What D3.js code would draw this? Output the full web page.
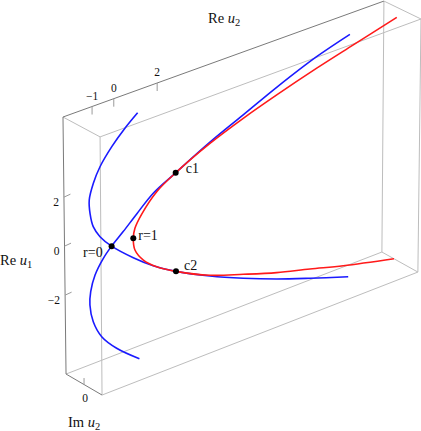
<!DOCTYPE html>
<html>
<head>
  <meta charset="utf-8">
  <script src="https://d3js.org/d3.v7.min.js"></script>
  <style>
    html, body { margin: 0; padding: 0; background: #fff; }
    svg { display: block; }
    text { font-family: "Liberation Serif", serif; fill: #111; }
  </style>
</head>
<body>
  <div id="chart"></div>
  <script>

  // curves: Re u2, Re u1, Im u2
  var blue1ReU2 = [0.95, 0.30, -0.39, -1.03, -1.42, -1.70, -1.75, -1.69, -1.45, -1.00, -0.01, 0.90, 1.94, 3.50, 5.03, 6.56, 8.09, 9.84];
  var blue1ReU1 = [4.46, 4.07, 3.58, 3.01, 2.50, 1.95, 1.44, 0.94, 0.49, 0, -0.79, -1.41, -1.97, -2.66, -3.24, -3.76, -4.22, -4.72];
  var blue1ImU2 = [-1.25, -1.14, -1.00, -0.84, -0.70, -0.55, -0.40, -0.26, -0.14, 0, 0, 0, 0, 0, 0, 0, 0, 0];

  var blue2ReU2 = [1.09, -0.08, -0.88, -1.39, -1.66, -1.71, -1.61, -1.32, -1.00, -0.46, 0.17, 0.94, 1.98, 3.57, 5.11, 6.66, 8.51, 10.05];
  var blue2ReU1 = [-5.72, -4.85, -4.06, -3.22, -2.38, -1.77, -1.07, -0.43, 0, 0.42, 0.94, 1.54, 2.04, 2.78, 3.40, 4.03, 4.69, 5.11];
  var blue2ImU2 = [-1.60, -1.36, -1.14, -0.90, -0.67, -0.50, -0.30, -0.12, 0, 0, 0, 0, 0, 0, 0, 0, 0, 0];

  var redReU2 = [12.21, 10.20, 8.51, 6.66, 5.11, 3.57, 1.98, 1.10, 0.40, 0.08, 0, 0.07, 0.45, 1.06, 1.94, 3.50, 5.03, 6.56, 8.09, 9.62, 11.95];
  var redReU1 = [5.11, 4.63, 4.22, 3.72, 3.26, 2.73, 2.04, 1.55, 0.86, 0.38, 0, -0.50, -1.03, -1.50, -1.97, -2.63, -3.08, -3.50, -3.84, -4.20, -4.66];

  // marked points
  var pointNames = ["r=0", "r=1", "c1", "c2"];
  var pointReU2 = [-1.00, 0, 1.98, 1.94];
  var pointReU1 = [0, 0, 2.04, -1.97];

  // box corners, the right side is a little shorter from the perspective
  var cornerReU2 = [-2.34, -2.29, 12.45, 12.50, -2.34, -2.34, 12.22, 12.22];
  var cornerReU1 = [5.27, 5.30, 5.27, 5.38, -5.22, -5.22, -4.90, -4.86];
  var cornerImU2 = [-1.5, 1.5, -1.5, 1.5, -1.5, 1.5, -1.5, 1.5];
  var darkEdges = [[0, 2], [0, 4], [4, 5]];
  var lightEdges = [[0, 1], [1, 3], [2, 3], [1, 5], [2, 6], [3, 7], [5, 7], [4, 6], [6, 7]];

  var reU2Ticks = [-1, 0, 2];
  var reU1Ticks = [-2, 0, 2];
  var imU2Ticks = [0];

  var width = 421,
      height = 431;

  // oblique projection, one scale per data axis and screen direction
  var xFromReU2 = d3.scaleLinear().domain([0, 1]).range([0, 21.7]),
      yFromReU2 = d3.scaleLinear().domain([0, 1]).range([0, -7.84]),
      xFromReU1 = d3.scaleLinear().domain([0, 1]).range([0, -0.29]),
      yFromReU1 = d3.scaleLinear().domain([0, 1]).range([0, -24.5]),
      xFromImU2 = d3.scaleLinear().domain([0, 1]).range([0, 12]),
      yFromImU2 = d3.scaleLinear().domain([0, 1]).range([0, 7]);

  function px(a, b, c) {
    return 133.3 + xFromReU2(a) + xFromReU1(b) + xFromImU2(c);
  }
  function py(a, b, c) {
    return 238.3 + yFromReU2(a) + yFromReU1(b) + yFromImU2(c);
  }

  function zip(as, bs, cs) {
    return as.map(function(a, i) {
      return { a: a, b: bs[i], c: cs ? cs[i] : 0 };
    });
  }

  var svg = d3.select("#chart").append("svg")
    .attr("width", width)
    .attr("height", height);

  var corners = zip(cornerReU2, cornerReU1, cornerImU2);

  function drawEdges(edges, colour) {
    svg.append("g").selectAll("line")
      .data(edges)
      .enter().append("line")
      .attr("x1", function(d) { var p = corners[d[0]]; return px(p.a, p.b, p.c); })
      .attr("y1", function(d) { var p = corners[d[0]]; return py(p.a, p.b, p.c); })
      .attr("x2", function(d) { var p = corners[d[1]]; return px(p.a, p.b, p.c); })
      .attr("y2", function(d) { var p = corners[d[1]]; return py(p.a, p.b, p.c); })
      .attr("stroke", colour)
      .attr("stroke-width", 1);
  }
  drawEdges(lightEdges, "#bdbdbd");
  drawEdges(darkEdges, "#7a7a7a");

  // ticks and tick labels
  var minA = cornerReU2[0], maxB = cornerReU1[0], minC = cornerImU2[0], minB = cornerReU1[4];
  var ticks = svg.append("g").attr("stroke", "#9a9a9a").attr("stroke-width", 1);
  var tickLabels = svg.append("g").attr("font-size", 11.5);

  reU2Ticks.forEach(function(t) {
    var x = px(t, maxB, minC), y = py(t, maxB, minC);
    ticks.append("line").attr("x1", x).attr("y1", y).attr("x2", x).attr("y2", y + 8);
    tickLabels.append("text").attr("x", x).attr("y", y - 7)
      .attr("text-anchor", "middle").text(d3.format("")(t));
  });
  reU1Ticks.forEach(function(t) {
    var x = px(minA, t, minC), y = py(minA, t, minC);
    ticks.append("line").attr("x1", x).attr("y1", y).attr("x2", x + 6.5).attr("y2", y - 3);
    tickLabels.append("text").attr("x", x - 5).attr("y", y + 9)
      .attr("text-anchor", "end").text(d3.format("")(t));
  });
  imU2Ticks.forEach(function(t) {
    var x = px(minA, minB, t), y = py(minA, minB, t);
    ticks.append("line").attr("x1", x).attr("y1", y).attr("x2", x).attr("y2", y - 6.5);
    tickLabels.append("text").attr("x", x + 1).attr("y", y + 17.5)
      .attr("text-anchor", "middle").text(d3.format("")(t));
  });

  // curves
  var line = d3.line()
    .curve(d3.curveCatmullRom.alpha(0.5))
    .x(function(d) { return px(d.a, d.b, d.c); })
    .y(function(d) { return py(d.a, d.b, d.c); });

  var series = [
    { points: zip(blue1ReU2, blue1ReU1, blue1ImU2), colour: "#1a1aff" },
    { points: zip(blue2ReU2, blue2ReU1, blue2ImU2), colour: "#1a1aff" },
    { points: zip(redReU2, redReU1), colour: "#ff1a1a" }
  ];

  svg.append("g").selectAll("path")
    .data(series)
    .enter().append("path")
    .attr("d", function(d) { return line(d.points); })
    .attr("fill", "none")
    .attr("stroke", function(d) { return d.colour; })
    .attr("stroke-width", 1.6);

  // marked points
  var labelOffset = { "r=0": [-28.5, 11], "r=1": [5, 2], "c1": [10, 0.5], "c2": [8, -1.5] };
  var points = zip(pointReU2, pointReU1);

  svg.append("g").selectAll("circle")
    .data(points)
    .enter().append("circle")
    .attr("cx", function(d) { return px(d.a, d.b, d.c); })
    .attr("cy", function(d) { return py(d.a, d.b, d.c); })
    .attr("r", 3)
    .attr("fill", "#000");

  svg.append("g").selectAll("text")
    .data(points)
    .enter().append("text")
    .attr("x", function(d, i) { return px(d.a, d.b, d.c) + labelOffset[pointNames[i]][0]; })
    .attr("y", function(d, i) { return py(d.a, d.b, d.c) + labelOffset[pointNames[i]][1]; })
    .attr("font-size", 14)
    .text(function(d, i) { return pointNames[i]; });

  // axis titles
  function axisTitle(name, x, y) {
    var t = svg.append("text").attr("x", x).attr("y", y).attr("font-size", 14.5);
    t.append("tspan").text(name + " ");
    t.append("tspan").attr("font-style", "italic").text("u");
    t.append("tspan").attr("font-size", 10.5).attr("dy", 3).text(name == "Im" || name == "Re2" ? "2" : axisTitle.sub);
  }
  axisTitle.sub = "2";
  axisTitle("Re", 208, 23);
  axisTitle.sub = "1";
  axisTitle("Re", 0, 265);
  axisTitle("Im", 68, 427);

  </script>
</body>
</html>
